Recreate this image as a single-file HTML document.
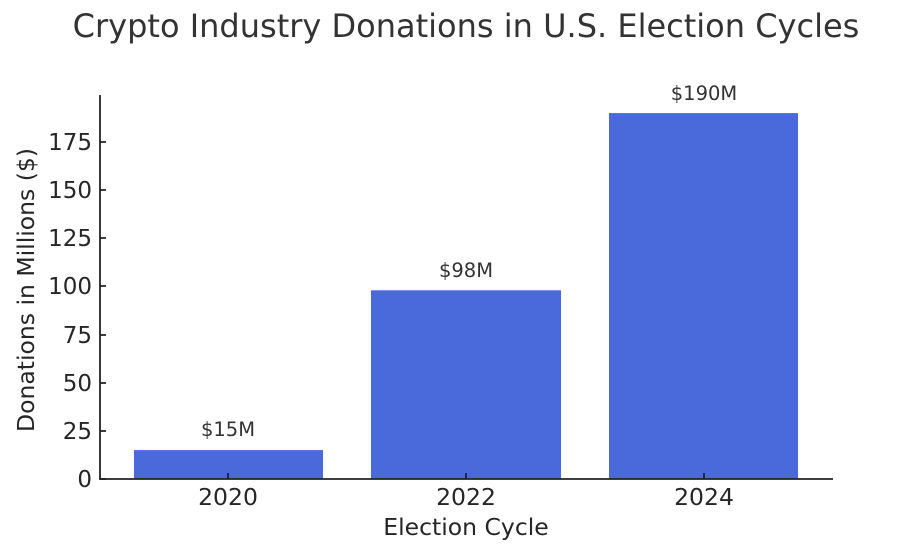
<!DOCTYPE html>
<html><head><meta charset="utf-8"><style>html,body{margin:0;padding:0;background:#fff}</style></head>
<body>
<svg width="900" height="547" xmlns="http://www.w3.org/2000/svg" font-family="DejaVu Sans, Liberation Sans, sans-serif" fill="#262626">
<rect width="900" height="547" fill="#fff"/>
<text x="466" y="37" font-size="32" text-anchor="middle" fill="#333">Crypto Industry Donations in U.S. Election Cycles</text>
<rect x="134" y="450.1" width="189" height="28.9" fill="#4a69db"/>
<rect x="371" y="290.3" width="190" height="188.7" fill="#4a69db"/>
<rect x="609" y="113.1" width="189" height="365.9" fill="#4a69db"/>
<g font-size="19.5" text-anchor="middle" fill="#333">
<text x="228" y="436">$15M</text>
<text x="466" y="277">$98M</text>
<text x="704" y="100">$190M</text>
</g>
<g stroke="#222" stroke-width="1.8" fill="none">
<line x1="100" y1="95" x2="100" y2="479"/>
<line x1="99" y1="479" x2="833" y2="479"/>
<path d="M100 479h6M100 431h6M100 383h6M100 335h6M100 286h6M100 238h6M100 190h6M100 142h6"/>
<path d="M228 479v-6M466 479v-6M704 479v-6"/>
</g>
<g font-size="23" text-anchor="end">
<text x="92" y="487">0</text>
<text x="92" y="439">25</text>
<text x="92" y="391">50</text>
<text x="92" y="343">75</text>
<text x="92" y="294">100</text>
<text x="92" y="246">125</text>
<text x="92" y="198">150</text>
<text x="92" y="150">175</text>
</g>
<g font-size="23.5" text-anchor="middle">
<text x="228" y="505">2020</text>
<text x="466" y="505">2022</text>
<text x="704" y="505">2024</text>
<text x="466" y="535">Election Cycle</text>
<text transform="translate(34,290) rotate(-90)">Donations in Millions ($)</text>
</g>
</svg>
</body></html>
